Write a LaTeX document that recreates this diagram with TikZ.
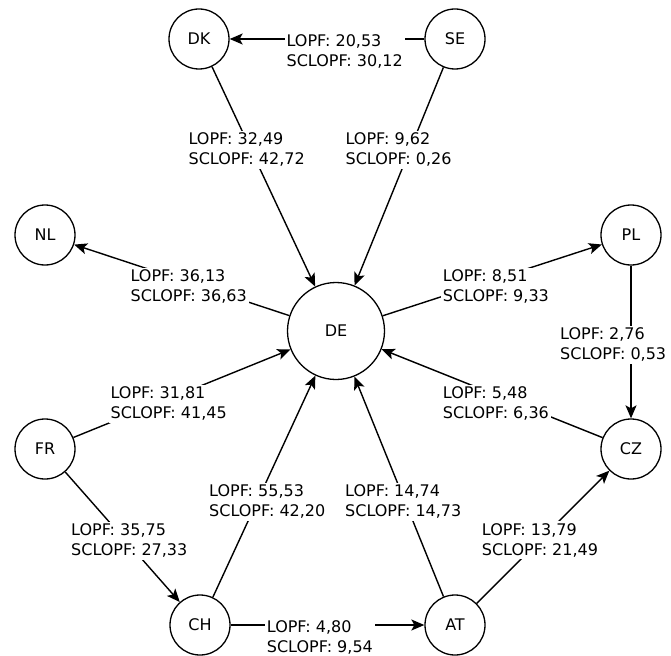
\documentclass[tikz,border=0pt]{standalone}
\usepackage{fontspec}
\setmainfont{DejaVu Sans}
\usetikzlibrary{arrows.meta}
\begin{document}
\begin{tikzpicture}[x=1pt,y=-1pt,
  country/.style={circle,draw,line width=1.3pt,minimum size=60pt,inner sep=0pt,font=\fontsize{16}{20}\selectfont},
  hub/.style={country,minimum size=97pt},
  flow/.style={line width=1.4pt,-{Stealth[length=13pt,width=11pt,inset=3pt]}},
  lbl/.style={fill=white,inner sep=2pt,align=left,anchor=north west,font=\fontsize{16}{20}\selectfont}
]
\useasboundingbox (0,0) rectangle (671,655);
% countries
\node[country] (DK) at (199,39) {DK};
\node[country] (SE) at (455,39) {SE};
\node[country] (NL) at (45,235) {NL};
\node[country] (PL) at (631,235) {PL};
\node[hub]     (DE) at (336,331) {DE};
\node[country] (FR) at (45,449) {FR};
\node[country] (CZ) at (631,449) {CZ};
\node[country] (CH) at (200,625) {CH};
\node[country] (AT) at (455,625) {AT};
% flows
\draw[flow] (SE) -- (DK);
\draw[flow] (DK) -- (DE);
\draw[flow] (SE) -- (DE);
\draw[flow] (DE) -- (NL);
\draw[flow] (DE) -- (PL);
\draw[flow] (PL) -- (CZ);
\draw[flow] (FR) -- (DE);
\draw[flow] (CZ) -- (DE);
\draw[flow] (FR) -- (CH);
\draw[flow] (CH) -- (DE);
\draw[flow] (AT) -- (DE);
\draw[flow] (AT) -- (CZ);
\draw[flow] (CH) -- (AT);
% labels
\node[lbl] (lSEDK) at (284.4,32.8) {LOPF: 20,53\\SCLOPF: 30,12};
\node[lbl] (lDKDE) at (186.4,130.8) {LOPF: 32,49\\SCLOPF: 42,72};
\node[lbl] (lSEDE) at (343.4,130.8) {LOPF: 9,62\\SCLOPF: 0,26};
\node[lbl] (lDENL) at (128.4,267.8) {LOPF: 36,13\\SCLOPF: 36,63};
\node[lbl] (lDEPL) at (440.7,267.8) {LOPF: 8,51\\SCLOPF: 9,33};
\node[lbl] (lPLCZ) at (558,325.8) {LOPF: 2,76\\SCLOPF: 0,53};
\node[lbl] (lFRDE) at (108.4,384.8) {LOPF: 31,81\\SCLOPF: 41,45};
\node[lbl] (lCZDE) at (440.7,384.5) {LOPF: 5,48\\SCLOPF: 6,36};
\node[lbl] (lFRCH) at (69,521.8) {LOPF: 35,75\\SCLOPF: 27,33};
\node[lbl] (lCHDE) at (207,482.8) {LOPF: 55,53\\SCLOPF: 42,20};
\node[lbl] (lATDE) at (343,482.8) {LOPF: 14,74\\SCLOPF: 14,73};
\node[lbl] (lATCZ) at (479.7,521) {LOPF: 13,79\\SCLOPF: 21,49};
\node[lbl] (lCHAT) at (264.7,618.5) {LOPF: 4,80\\SCLOPF: 9,54};
\end{tikzpicture}
\end{document}
